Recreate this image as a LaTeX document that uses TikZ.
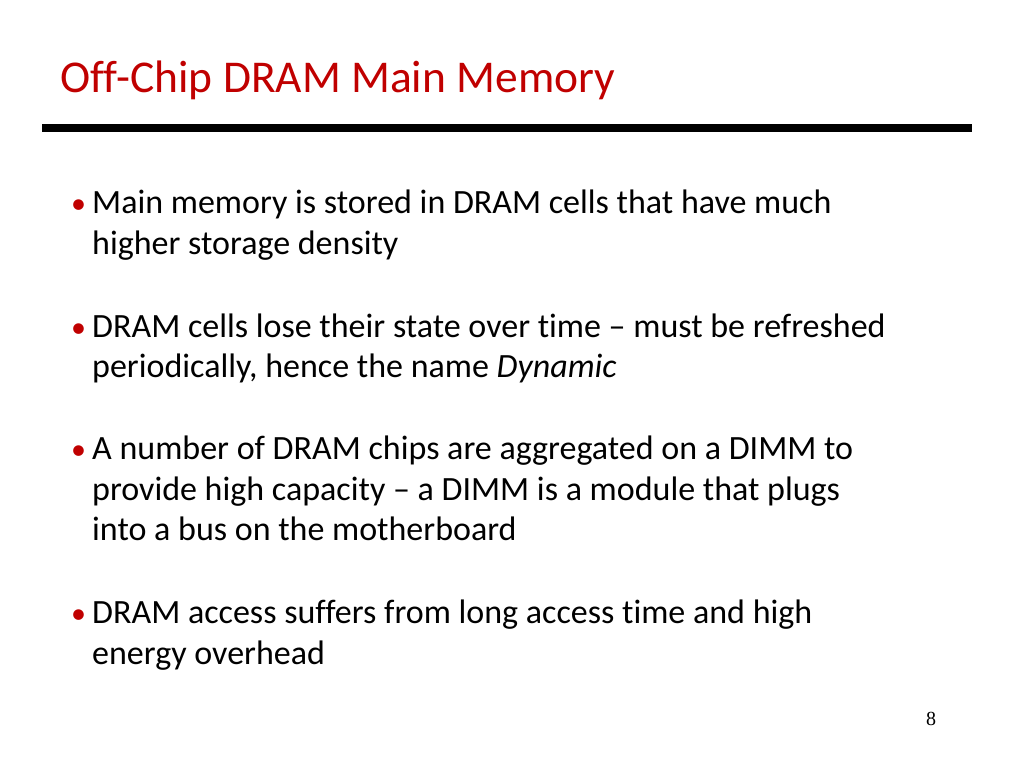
\documentclass[tikz,border=0pt]{standalone}
\usepackage{fontspec}
\setmainfont[Ligatures=NoCommon]{Carlito}
\newfontfamily\pgnum{Liberation Serif}
\definecolor{slidered}{RGB}{192,0,0}
\begin{document}
\begin{tikzpicture}[x=1pt,y=-1pt,
  body/.style={anchor=base west,inner sep=0pt,font=\fontsize{34}{34}\selectfont},
  bul/.style={anchor=base west,inner sep=0pt,text=slidered,font=\fontsize{30}{30}\selectfont}]
\useasboundingbox (0,0) rectangle (1024,768);
\node[anchor=base west,inner sep=0pt,text=slidered,font=\fontsize{45.5}{45.5}\selectfont] (title) at (60,92) {Off-Chip DRAM Main Memory};
\fill (42,124) rectangle (972,132);
\node[bul] (b1) at (71,213) {•};
\node[body] (l1) at (92,213) {Main memory is stored in DRAM cells that have much};
\node[body] (l2) at (92,254) {higher storage density};
\node[bul] (b2) at (71,337) {•};
\node[body] (l3) at (92,337) {DRAM cells lose their state over time – must be refreshed};
\node[body] (l4) at (92,377) {periodically, hence the name \textit{Dynamic}};
\node[bul] (b3) at (71,459) {•};
\node[body] (l5) at (92,459) {A number of DRAM chips are aggregated on a DIMM to};
\node[body] (l6) at (92,500) {provide high capacity – a DIMM is a module that plugs};
\node[body] (l7) at (92,540) {into a bus on the motherboard};
\node[bul] (b4) at (71,623) {•};
\node[body] (l8) at (92,623) {DRAM access suffers from long access time and high};
\node[body] (l9) at (92,664) {energy overhead};
\node[anchor=base,inner sep=0pt,font=\pgnum\fontsize{20}{20}\selectfont] (pg) at (931,725) {8};
\end{tikzpicture}
\end{document}
